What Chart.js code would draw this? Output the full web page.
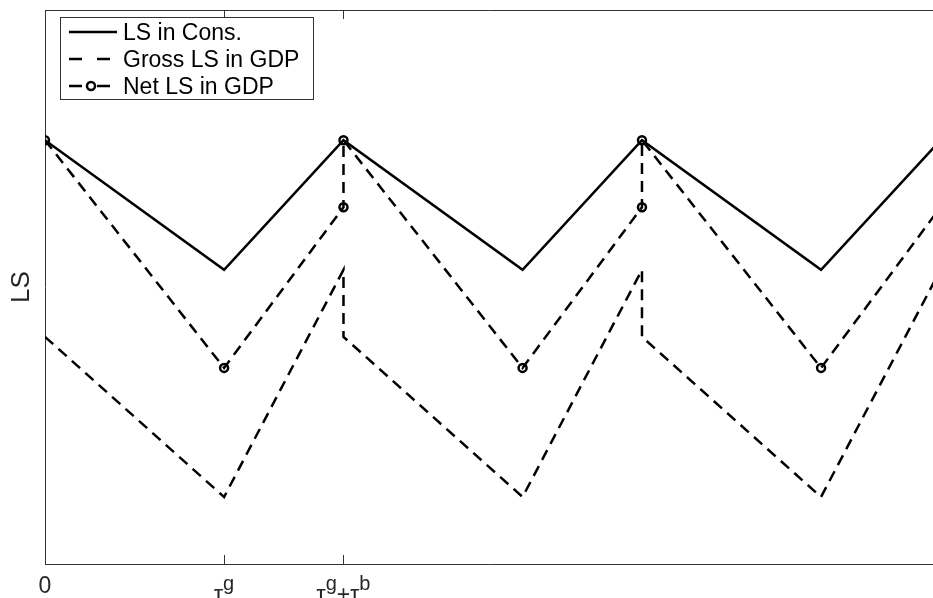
<!DOCTYPE html>
<html>
<head>
<meta charset="utf-8">
<script src="https://cdn.jsdelivr.net/npm/chart.js@4/dist/chart.umd.min.js"></script>
<style>
    html, body { margin: 0; padding: 0; background: #fff; overflow: hidden; }
    #wrap { width: 933px; height: 598px; position: relative; }
</style>
</head>
<body>
<div id="wrap"><canvas id="chart"></canvas></div>
<script>
// tick positions on the time axis (tau_g = 0.6, tau_b = 0.4)
let xTickValues = [0, 0.6, 1.0];
let xTickLabels = ["0", "τ^g", "τ^g+τ^b"];

// LS in consumption
let consX = [0, 0.6, 1.0, 1.6, 2.0, 2.6, 3.0];
let consY = [0.765, 0.531, 0.765, 0.531, 0.765, 0.531, 0.765];

// gross LS in GDP
let grossX = [0, 0.6, 1.0, 1.0, 1.6, 2.0, 2.0, 2.6, 3.0];
let grossY = [0.410, 0.121, 0.531, 0.410, 0.121, 0.531, 0.410, 0.121, 0.531];

// net LS in GDP
let netX = [0, 0.6, 1.0, 1.0, 1.6, 2.0, 2.0, 2.6, 3.0];
let netY = [0.765, 0.354, 0.644, 0.765, 0.354, 0.644, 0.765, 0.354, 0.644];

let fontFamily = '"Liberation Sans", Arial, Helvetica, sans-serif';
let axisColor = "#333333";
let dash = [11, 7];

function toPoints(xs, ys) {
    return xs.map((x, i) => ({x: x, y: ys[i]}));
}

function splitLabel(label) {
    // "τ^g+τ^b" -> base / superscript pieces
    let parts = [];
    for (let i = 0; i < label.length; i++) {
        if (label[i] === "^") {
            parts.push({text: label[i + 1], sup: true});
            i++;
        } else {
            parts.push({text: label[i], sup: false});
        }
    }
    return parts;
}

let axisDecor = {
    id: "axisDecor",
    afterDraw(chart) {
        let ctx = chart.ctx;
        let area = chart.chartArea;
        let xs = chart.scales.x;
        ctx.save();

        // inward tick marks, bottom and mirrored at top
        ctx.strokeStyle = axisColor;
        ctx.lineWidth = 1;
        xTickValues.forEach(v => {
            let px = Math.round(xs.getPixelForValue(v)) + 0.5;
            ctx.beginPath();
            ctx.moveTo(px, area.bottom);
            ctx.lineTo(px, area.bottom - 9);
            ctx.moveTo(px, area.top);
            ctx.lineTo(px, area.top + 9);
            ctx.stroke();
        });

        // tick labels with superscripts
        ctx.fillStyle = "#262626";
        ctx.textBaseline = "alphabetic";
        xTickValues.forEach((v, i) => {
            let parts = splitLabel(xTickLabels[i]);
            let hasSup = parts.some(p => p.sup);
            let base = area.bottom + (hasSup ? 38 : 29);
            let width = 0;
            parts.forEach(p => {
                ctx.font = (p.sup ? "20px " : "23px ") + fontFamily;
                p.w = ctx.measureText(p.text).width;
                width += p.w;
            });
            let px = xs.getPixelForValue(v) - width / 2;
            parts.forEach(p => {
                ctx.font = (p.sup ? "20px " : "23px ") + fontFamily;
                ctx.fillText(p.text, px, p.sup ? base - 12 : base);
                px += p.w;
            });
        });
        ctx.restore();
    }
};

let boxLegend = {
    id: "boxLegend",
    afterDraw(chart) {
        let ctx = chart.ctx;
        let left = 60, top = 17, w = 253, h = 82;
        ctx.save();
        ctx.fillStyle = "#fff";
        ctx.fillRect(left, top, w, h);
        ctx.strokeStyle = axisColor;
        ctx.lineWidth = 1;
        ctx.strokeRect(left + 0.5, top + 0.5, w, h);

        chart.data.datasets.forEach((ds, i) => {
            let cy = 32 + i * 27;
            ctx.strokeStyle = "#000";
            ctx.lineWidth = 2.5;
            ctx.setLineDash(ds.borderDash && ds.borderDash.length ? [13, 15] : []);
            ctx.beginPath();
            ctx.moveTo(69, cy);
            ctx.lineTo(117, cy);
            ctx.stroke();
            ctx.setLineDash([]);
            if (ds.pointRadius > 0) {
                ctx.beginPath();
                ctx.arc(91, cy, 4, 0, Math.PI * 2);
                ctx.fillStyle = "#fff";
                ctx.fill();
                ctx.stroke();
            }
            ctx.fillStyle = "#000";
            ctx.font = "23px " + fontFamily;
            ctx.textBaseline = "alphabetic";
            ctx.fillText(ds.label, 123, cy + 8);
        });
        ctx.restore();
    }
};

new Chart(document.getElementById("chart").getContext("2d"), {
    type: "line",
    data: {
        datasets: [
            {
                label: "LS in Cons.",
                data: toPoints(consX, consY),
                borderColor: "#000",
                borderWidth: 2.5,
                pointRadius: 0,
                tension: 0
            },
            {
                label: "Gross LS in GDP",
                data: toPoints(grossX, grossY),
                borderColor: "#000",
                borderWidth: 2.5,
                borderDash: dash,
                pointRadius: 0,
                tension: 0
            },
            {
                label: "Net LS in GDP",
                data: toPoints(netX, netY),
                borderColor: "#000",
                borderWidth: 2.5,
                borderDash: dash,
                pointRadius: 4,
                pointBorderWidth: 2.5,
                pointBorderColor: "#000",
                pointBackgroundColor: "rgba(0,0,0,0)",
                tension: 0
            }
        ]
    },
    options: {
        responsive: true,
        maintainAspectRatio: false,
        animation: false,
        layout: {padding: 0, autoPadding: false},
        plugins: {
            legend: {display: false},
            tooltip: {enabled: false}
        },
        scales: {
            x: {
                type: "linear",
                position: "bottom",
                min: 0,
                max: 2.975,
                grid: {display: false},
                border: {color: axisColor, width: 1},
                ticks: {display: false},
                afterBuildTicks: scale => { scale.ticks = xTickValues.map(v => ({value: v})); },
                afterFit: scale => { scale.height = 34; }
            },
            xTop: {
                type: "linear",
                position: "top",
                min: 0,
                max: 2.975,
                grid: {display: false},
                border: {color: axisColor, width: 1},
                ticks: {display: false},
                afterFit: scale => { scale.height = 10; }
            },
            y: {
                min: 0,
                max: 1,
                grid: {display: false},
                border: {color: axisColor, width: 1},
                ticks: {display: false},
                title: {
                    display: true,
                    text: "LS",
                    color: "#262626",
                    font: {family: fontFamily, size: 26},
                    padding: {top: 6, bottom: 0}
                },
                afterFit: scale => { scale.width = 45; }
            }
        }
    },
    plugins: [axisDecor, boxLegend]
});
</script>
</body>
</html>
